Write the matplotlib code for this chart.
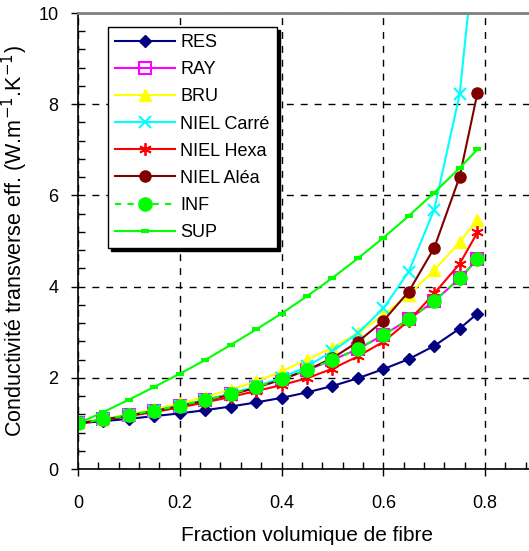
import numpy as np
import matplotlib
matplotlib.use('Agg')
import matplotlib.pyplot as plt

plt.rcParams['font.family'] = ['Liberation Sans', 'DejaVu Sans']

# fraction volumique
vf = [0, 0.05, 0.1, 0.15, 0.2, 0.25, 0.3, 0.35, 0.4, 0.45, 0.5, 0.55, 0.6, 0.65, 0.7, 0.75, 0.785]

res = [1.0, 1.05, 1.10, 1.16, 1.22, 1.29, 1.37, 1.46, 1.56, 1.68, 1.82, 1.99, 2.19, 2.41, 2.70, 3.08, 3.41]
ray = [1.0, 1.09, 1.18, 1.28, 1.39, 1.51, 1.65, 1.80, 1.97, 2.17, 2.39, 2.63, 2.94, 3.28, 3.68, 4.18, 4.60]
bru = [1.0, 1.10, 1.20, 1.31, 1.44, 1.58, 1.74, 1.92, 2.14, 2.40, 2.66, 2.98, 3.38, 3.82, 4.36, 4.98, 5.46]
niel_carre = [1.0, 1.09, 1.18, 1.28, 1.39, 1.51, 1.65, 1.81, 2.00, 2.25, 2.58, 2.98, 3.52, 4.33, 5.69, 8.22, 12.0]
niel_hexa = [1.0, 1.08, 1.16, 1.25, 1.35, 1.46, 1.58, 1.71, 1.84, 1.99, 2.20, 2.47, 2.79, 3.25, 3.85, 4.50, 5.19]
niel_alea = [1.0, 1.08, 1.17, 1.27, 1.38, 1.50, 1.63, 1.78, 1.96, 2.17, 2.43, 2.79, 3.25, 3.89, 4.85, 6.41, 8.25]
inf = [1.0, 1.09, 1.18, 1.28, 1.39, 1.51, 1.65, 1.80, 1.97, 2.17, 2.39, 2.63, 2.94, 3.28, 3.68, 4.18, 4.60]
sup = [1.0, 1.25, 1.52, 1.80, 2.09, 2.39, 2.72, 3.06, 3.41, 3.79, 4.19, 4.62, 5.07, 5.55, 6.06, 6.60, 7.01]

fig = plt.figure(figsize=(5.29, 5.51), dpi=100)
ax = fig.add_axes([78/529, 82/551, 458/529, 456/551])

ax.plot(vf, res, '-', color='#000080', lw=1.5, marker='D', ms=6, mfc='#000080', mec='#000080', label='RES')
ax.plot(vf, ray, '-', color='#FF00FF', lw=1.5, marker='s', ms=9, mfc='none', mec='#FF00FF', mew=1.5, label='RAY')
ax.plot(vf, bru, '-', color='#FFFF00', lw=1.5, marker='^', ms=8, mfc='#FFFF00', mec='#FFFF00', label='BRU')
ax.plot(vf, niel_carre, '-', color='#00FFFF', lw=1.5, marker='x', ms=8, mew=1.5, mec='#00FFFF', label='NIEL Carré')
ax.plot(vf, niel_hexa, '-', color='#FF0000', lw=1.5, marker=(6, 2, 0), ms=9, mew=1.3, mec='#FF0000', label='NIEL Hexa')
ax.plot(vf, niel_alea, '-', color='#800000', lw=1.5, marker='o', ms=8, mfc='#800000', mec='#800000', label='NIEL Aléa')
ax.plot(vf, inf, '--', color='#00FF00', lw=1.5, dashes=(3, 3), marker='o', ms=9.5, mfc='#00FF00', mec='#00FF00', label='INF')
ax.plot(vf, sup, '-', color='#00FF00', lw=1.5, marker='_', ms=6, mew=3, mec='#00FF00', label='SUP')

ax.set_xlim(0, 0.9)
ax.set_ylim(0, 10)
ax.set_xticks([0, 0.2, 0.4, 0.6, 0.8])
ax.set_xticklabels(['0', '0.2', '0.4', '0.6', '0.8'])
ax.set_xticks(np.arange(0, 0.9, 0.04), minor=True)
ax.set_yticks([0, 2, 4, 6, 8, 10])
ax.set_yticks(np.arange(0, 10.01, 0.4), minor=True)
ax.tick_params(which='major', direction='out', length=5, width=1, labelsize=13)
ax.tick_params(axis='x', which='major', pad=14)
ax.tick_params(axis='y', which='major', pad=9)
ax.tick_params(which='minor', direction='in', length=5, width=1)

ax.grid(True, which='major', color='black', linestyle=(0, (5, 5)), lw=1)
ax.spines['right'].set_visible(False)
ax.spines['top'].set_color('#808080')
ax.spines['top'].set_linewidth(2)
ax.spines['left'].set_linewidth(1.2)
ax.spines['bottom'].set_linewidth(1.2)

ax.set_xlabel('Fraction volumique de fibre', fontsize=15, labelpad=10)
ax.set_ylabel('Conductivité transverse eff. (W.m$^{-1}$.K$^{-1}$)', fontsize=15.5, labelpad=6)

leg = ax.legend(loc='upper left', bbox_to_anchor=(30/458, 442/456), borderaxespad=0,
                fontsize=13, fancybox=False, shadow={'color': 'black', 'alpha': 1},
                edgecolor='black', framealpha=1, labelspacing=0.56, handlelength=3.3,
                handletextpad=0.3, borderpad=0.4)
leg.get_frame().set_linewidth(1)

fig.savefig('out.png', dpi=100)
